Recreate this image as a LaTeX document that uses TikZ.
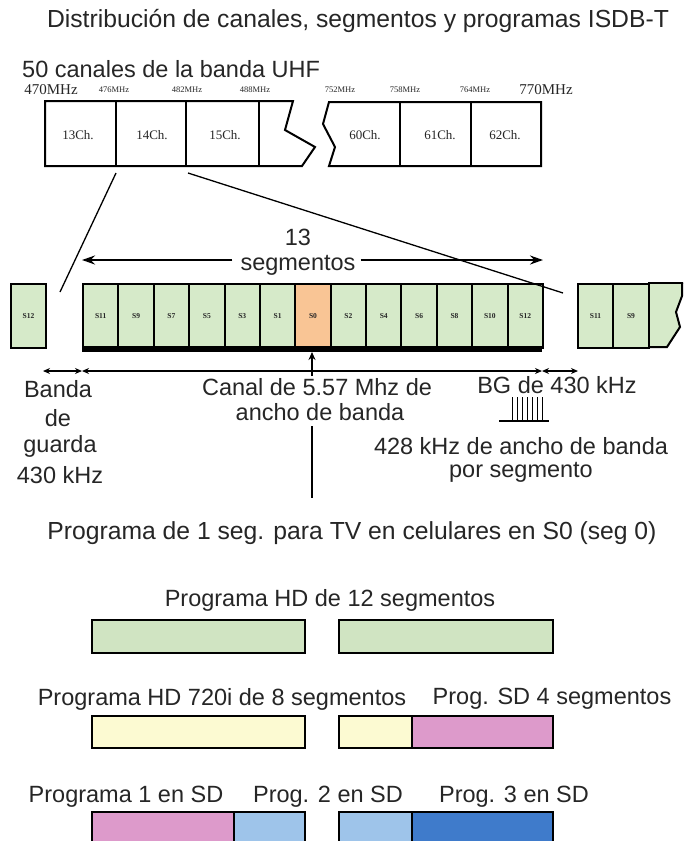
\documentclass[tikz,border=0pt]{standalone}
\usepackage{fontspec}
\setmainfont{Liberation Sans}
\newfontfamily\seriffam{Liberation Serif}
\usetikzlibrary{arrows.meta}
\definecolor{txtc}{HTML}{262626}
\definecolor{seggreen}{HTML}{D6EAC9}
\definecolor{segorange}{HTML}{F9C595}
\definecolor{bargreen}{HTML}{D0E4C2}
\definecolor{baryellow}{HTML}{FCFAD2}
\definecolor{barpink}{HTML}{DD9ACB}
\definecolor{barlblue}{HTML}{9EC4EA}
\definecolor{bardblue}{HTML}{3F7BCB}
\begin{document}
\begin{tikzpicture}[x=1pt,y=-1pt,
  txt/.style={font=\fontsize{23.5}{25}\selectfont, text=txtc, inner sep=0pt, anchor=center},
  bigtxt/.style={font=\fontsize{24.7}{26}\selectfont, text=txtc, inner sep=0pt, anchor=center},
  freqsmall/.style={font=\seriffam\fontsize{8.5}{9}\selectfont, inner sep=0pt, text=txtc},
  freqbig/.style={font=\seriffam\fontsize{15}{16}\selectfont, inner sep=0pt, text=txtc},
  chlabel/.style={font=\seriffam\fontsize{13}{14}\selectfont, inner sep=0pt, text=txtc},
  seglabel/.style={font=\seriffam\bfseries\fontsize{7.5}{8}\selectfont, text=txtc},
  segbox/.style={draw=black, line width=2pt, fill=seggreen, minimum width=35.38pt, minimum height=64pt, inner sep=0pt, anchor=north west},
  chline/.style={line width=2pt, draw=black},
  thinline/.style={line width=1.3pt, draw=black},
  bigarrow/.style={line width=2.6pt, -{Stealth[length=13pt,width=9pt]}},
  dimarrow/.style={line width=1.3pt, {Stealth[length=7pt,width=6pt]}-{Stealth[length=7pt,width=6pt]}},
  progbar/.style={draw=black, line width=2pt}
]
\useasboundingbox (0,0) rectangle (683,841);
\clip (0,0) rectangle (683,841);
\fill[white] (0,0) rectangle (683,841);

% titles
\node[bigtxt] (title) at (358,21) {Distribución de canales, segmentos y programas ISDB-T};
\node[txt, anchor=west] (uhf) at (22,69) {50 canales de la banda UHF};

% frequency labels
\node[freqbig] (f470) at (51,90) {470MHz};
\node[freqsmall] (f476) at (114,90) {476MHz};
\node[freqsmall] (f482) at (187,90) {482MHz};
\node[freqsmall] (f488) at (255,90) {488MHz};
\node[freqsmall] (f752) at (340,90) {752MHz};
\node[freqsmall] (f758) at (405,90) {758MHz};
\node[freqsmall] (f764) at (475,90) {764MHz};
\node[freqbig] (f770) at (546,90) {770MHz};

% channel strip, left part
\draw[chline, line join=miter] (293,101) -- (45,101) -- (45,166) -- (302,166) -- (315,147) -- (285,130) -- cycle;
\draw[chline] (116,101) -- (116,166);
\draw[chline] (186,101) -- (186,166);
\draw[chline] (259,101) -- (259,166);
% channel strip, right part
\draw[chline, line join=miter] (329,102) -- (541,102) -- (541,166) -- (329,166) -- (335,147) -- (323,124) -- cycle;
\draw[chline] (400,102) -- (400,166);
\draw[chline] (471,102) -- (471,166);

\node[chlabel] (ch13) at (78,135) {13Ch.};
\node[chlabel] (ch14) at (152,135) {14Ch.};
\node[chlabel] (ch15) at (225,135) {15Ch.};
\node[chlabel] (ch60) at (365,135) {60Ch.};
\node[chlabel] (ch61) at (440,135) {61Ch.};
\node[chlabel] (ch62) at (505,135) {62Ch.};

% zoom lines
\coordinate (za) at (116,173);
\coordinate (zb) at (60,292);
\coordinate (zc) at (188,173);
\coordinate (zd) at (563,293);
\draw[thinline] (za) -- (zb);

% segments
\foreach \lab [count=\i from 0] in {S11,S9,S7,S5,S3,S1,S0,S2,S4,S6,S8,S10,S12} {
  \pgfmathsetmacro{\xx}{82+\i*35.38}
  \ifnum\i=6
    \node[segbox, fill=segorange] (seg\i) at (\xx,283) {};
  \else
    \node[segbox] (seg\i) at (\xx,283) {};
  \fi
  \node[seglabel] at (seg\i.center) {\lab};
}
\fill[black] (82,346) rectangle (542,352);

% left partial segment
\node[segbox, minimum width=35pt] (segL) at (10,283) {};
\node[seglabel] at (segL.center) {S12};
% right partial segments
\fill[seggreen] (648,283) -- (682,283) -- (682,296) -- (676,312) -- (680,327) -- (667,347) -- (648,347) -- cycle;
\draw[chline] (648,283) -- (690,283);
\draw[chline] (648,347) -- (667,347) -- (680,327) -- (676,312) -- (682,296) -- (682,283);
\node[segbox, minimum width=35pt] (segR1) at (577,283) {};
\node[seglabel] at (segR1.center) {S11};
\node[segbox, minimum width=36pt] (segR2) at (612,283) {};
\node[seglabel] at (segR2.center) {S9};

\draw[thinline] (zc) -- (zd);

% 13 segmentos
\node[txt] (n13) at (298,237) {13};
\node[txt] (nseg) at (298,265) {segmentos};
\coordinate (segLeftEnd) at (82,260);
\coordinate (segRightEnd) at (543,260);
\draw[bigarrow] (nseg.west |- segLeftEnd) ++(-8,0) -- (segLeftEnd);
\draw[bigarrow] (nseg.east |- segRightEnd) ++(5,0) -- (segRightEnd);

% dimension arrows
\coordinate (d0) at (43,371);
\coordinate (d1) at (82,371);
\coordinate (d2) at (542,371);
\coordinate (d3) at (578,371);
\draw[dimarrow] (d0) -- (d1);
\draw[dimarrow] (d1) -- (d2);
\draw[dimarrow] (d2) -- (d3);

% labels below
\node[txt] (banda) at (58,389) {Banda};
\node[txt] (bde) at (58,418) {de};
\node[txt] (guarda) at (60,446) {guarda};
\node[txt] (g430) at (60,475) {430 kHz};

\node[txt] (canal) at (317,387) {Canal de 5.57 Mhz de};
\node[txt] (ancho) at (320,412) {ancho de banda};
\coordinate (vtop) at (312,352);
\coordinate (vmid) at (312,376);
\coordinate (vlow) at (312,426);
\coordinate (vbot) at (312,498);
\draw[line width=1.6pt, -{Stealth[length=8pt,width=7pt]}] (vmid) -- (vtop);
\draw[line width=1.6pt] (vlow) -- (vbot);

\node[txt] (bg) at (557,385) {BG de 430 kHz};
\foreach \k in {0,...,6} { \draw[line width=1pt] (512+\k*5,397) -- (512+\k*5,420); }
\draw[line width=1.3pt] (499,421) -- (549,421);
\node[txt] (k428) at (521,446) {428 kHz de ancho de banda};
\node[txt] (porseg) at (521,472) {por segmento};

% programs
\node[bigtxt] (oneseg) at (352,533) {Programa de 1 seg. para TV en celulares en S0 (seg 0)};

\node[txt] (hd12) at (330,600) {Programa HD de 12 segmentos};
\draw[progbar, fill=bargreen] (92,620) rectangle (305,653);
\draw[progbar, fill=bargreen] (339,620) rectangle (553,653);

\node[txt] (hd720) at (222,699) {Programa HD 720i de 8 segmentos};
\node[txt] (sd4) at (552,699) {Prog. SD 4 segmentos};
\draw[progbar, fill=baryellow] (92,716) rectangle (305,748);
\draw[progbar, fill=baryellow] (339,716) rectangle (412,748);
\draw[progbar, fill=barpink] (412,716) rectangle (553,748);

\node[txt] (p1) at (126,797) {Programa 1 en SD};
\node[txt] (p2) at (328,797) {Prog. 2 en SD};
\node[txt] (p3) at (514,797) {Prog. 3 en SD};
\draw[progbar, fill=barpink] (92,812) rectangle (234,860);
\draw[progbar, fill=barlblue] (234,812) rectangle (305,860);
\draw[progbar, fill=barlblue] (339,812) rectangle (412,860);
\draw[progbar, fill=bardblue] (412,812) rectangle (553,860);
\end{tikzpicture}
\end{document}
